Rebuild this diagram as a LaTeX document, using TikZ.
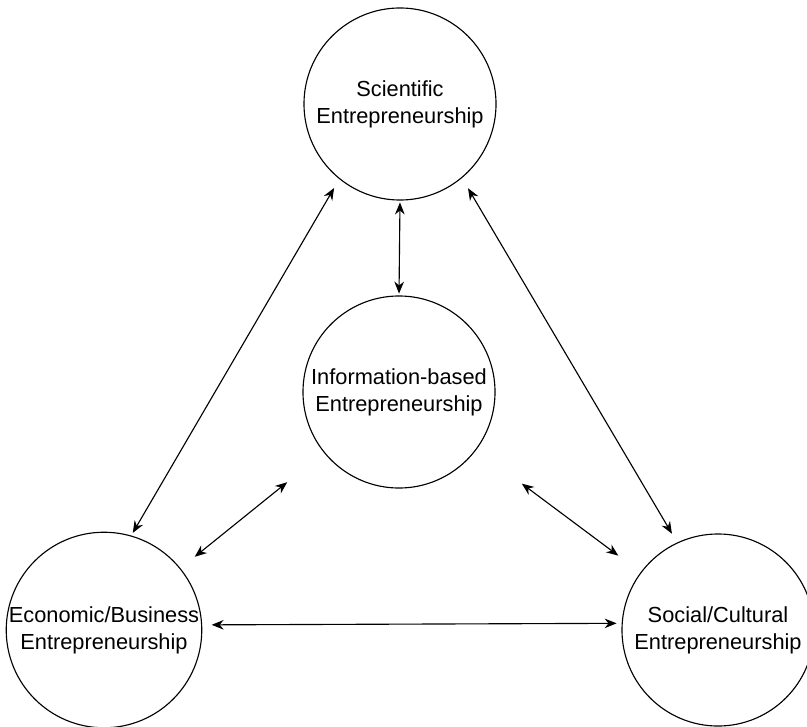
\documentclass[tikz,border=0pt]{standalone}
\usepackage{fontspec}
\setmainfont{Liberation Sans}
\usepackage{tikz}
\usetikzlibrary{arrows.meta}
\tikzset{
	ent/.style={draw, circle, line width=0.8pt, inner sep=0pt, outer sep=0pt,
		minimum size=4.8cm, align=center,
		font=\fontsize{15.5pt}{19.2pt}\selectfont},
	lnk/.style={line width=0.8pt, {Stealth[length=3mm, width=2.4mm]}-{Stealth[length=3mm, width=2.4mm]}},
}
\begin{document}
\begin{tikzpicture}[x=0.025cm, y=0.025cm]
	\useasboundingbox (0,0) rectangle (807,726);
	\clip (0,0) rectangle (807,726);
	\node[ent] at (400,622) (sci) {Scientific\\Entrepreneurship};
	\node[ent] at (399,334) (info) {Information-based\\Entrepreneurship};
	\node[ent] at (104,96) (econ) {Economic/Business\\Entrepreneurship};
	\node[ent] at (718,96) (soc) {Social/Cultural\\Entrepreneurship};
	% links to the top circle
	\draw[lnk, shorten <=0.06cm, shorten >=0.06cm] (sci.south) -- (info.north);
	\draw[lnk, shorten <=0.27cm, shorten >=0.09cm] (sci.231) -- (econ.74);
	\draw[lnk, shorten <=0.31cm, shorten >=0.27cm] (sci.310) -- (soc.115);
	% floating links round the middle circle
	\draw[lnk, shorten <=1.19cm, shorten >=0.47cm] (info) -- (econ);
	\draw[lnk, shorten <=1.43cm, shorten >=0.71cm] (info) -- (soc);
	% bottom link
	\draw[lnk, shorten <=0.25cm, shorten >=0.14cm] (econ.3.6) -- (soc.176.4);
\end{tikzpicture}
\end{document}
